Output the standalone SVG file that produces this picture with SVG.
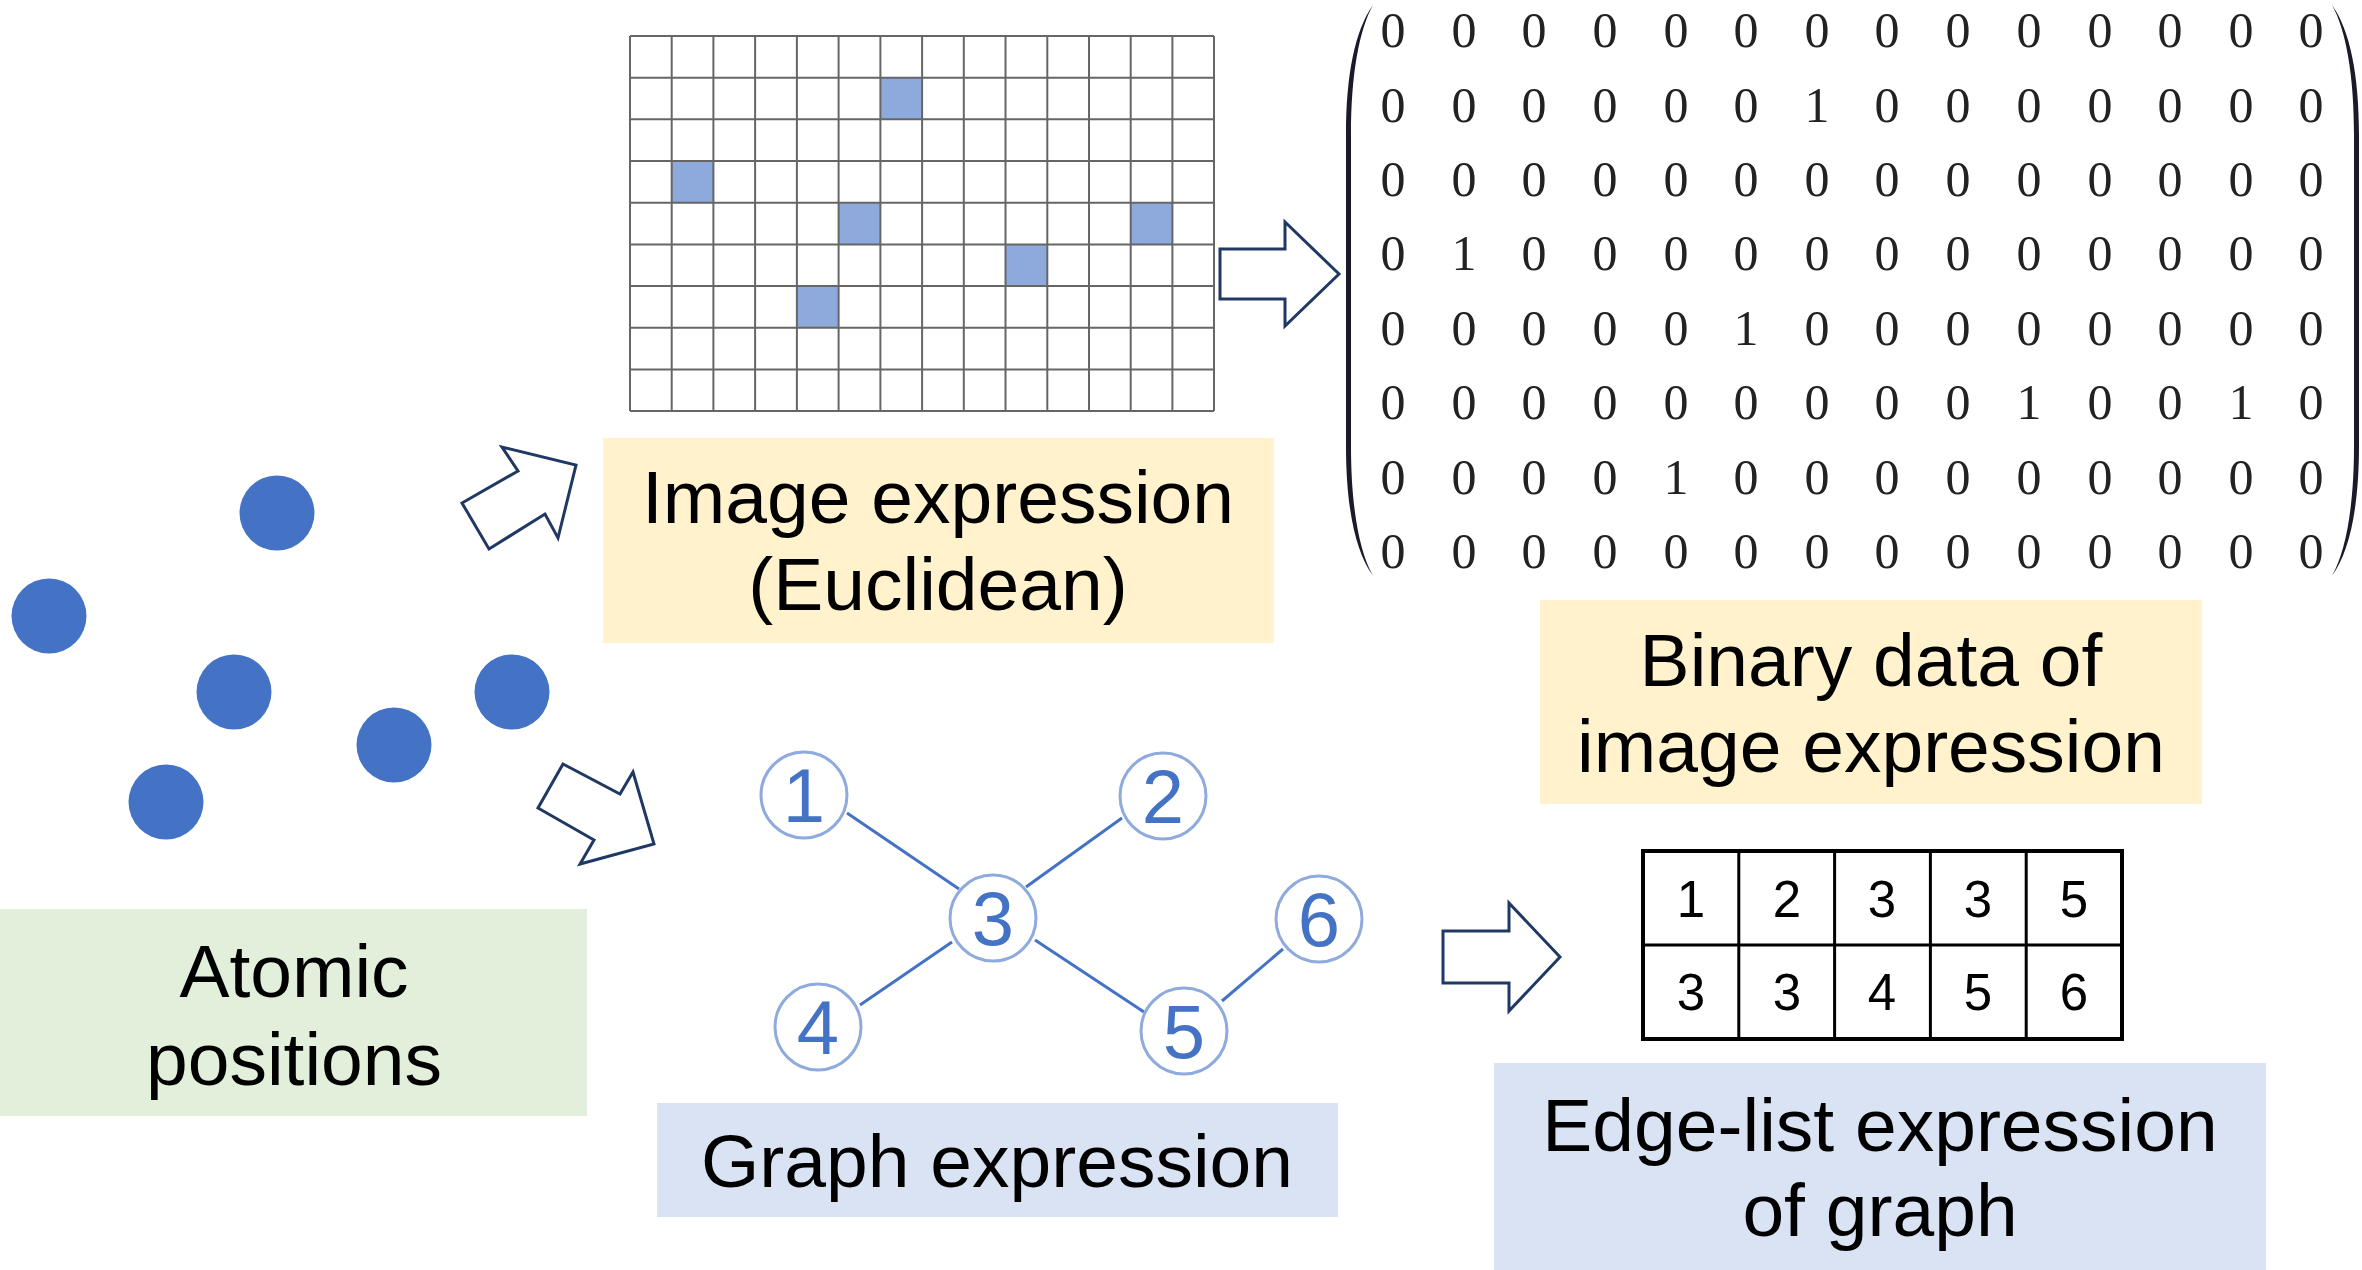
<svg xmlns="http://www.w3.org/2000/svg" width="2362" height="1270" viewBox="0 0 2362 1270">
<style>
.lbl{font-family:"Liberation Sans",Arial,sans-serif;font-size:75px;fill:#000;text-anchor:middle}
.mx{font-family:"Liberation Serif","Times New Roman",serif;font-size:50px;fill:#222;text-anchor:middle}
.tb{font-family:"Liberation Sans",Arial,sans-serif;font-size:51px;fill:#000;text-anchor:middle}
.nd{font-family:"Liberation Sans",Arial,sans-serif;font-size:76px;fill:#4472C4;text-anchor:middle}
.atom{fill:#4472C4}
.gn{fill:#fff;stroke:#8FAADC;stroke-width:3}
.barrow{fill:#fff;stroke:#203864;stroke-width:3;stroke-linejoin:miter}
.edge{stroke:#4472C4;stroke-width:3}
.grid line{stroke:#666;stroke-width:2}
.cell{fill:#8EA9DB}
</style>
<rect width="2362" height="1270" fill="#fff"/>

<g id="atoms">
<circle class="atom" cx="277" cy="513" r="37.5"/>
<circle class="atom" cx="49" cy="616" r="37.5"/>
<circle class="atom" cx="234" cy="692" r="37.5"/>
<circle class="atom" cx="512" cy="692" r="37.5"/>
<circle class="atom" cx="394" cy="745" r="37.5"/>
<circle class="atom" cx="166" cy="802" r="37.5"/>
</g>

<g id="atomic-label">
<rect x="0" y="909" width="587" height="207" fill="#E2EFDA"/>
<text class="lbl" x="294" y="997">Atomic</text>
<text class="lbl" x="294" y="1085">positions</text>
</g>

<g id="image-grid">
<rect class="cell" x="880.4" y="77.7" width="41.7" height="41.7"/>
<rect class="cell" x="671.7" y="161" width="41.7" height="41.7"/>
<rect class="cell" x="838.6" y="202.7" width="41.7" height="41.7"/>
<rect class="cell" x="1130.7" y="202.7" width="41.7" height="41.7"/>
<rect class="cell" x="1005.5" y="244.4" width="41.7" height="41.7"/>
<rect class="cell" x="796.9" y="286.1" width="41.7" height="41.7"/>
<g class="grid">
<line x1="630" y1="36" x2="630" y2="411"/><line x1="671.7" y1="36" x2="671.7" y2="411"/><line x1="713.4" y1="36" x2="713.4" y2="411"/><line x1="755.1" y1="36" x2="755.1" y2="411"/><line x1="796.9" y1="36" x2="796.9" y2="411"/><line x1="838.6" y1="36" x2="838.6" y2="411"/><line x1="880.4" y1="36" x2="880.4" y2="411"/><line x1="922.1" y1="36" x2="922.1" y2="411"/><line x1="963.8" y1="36" x2="963.8" y2="411"/><line x1="1005.5" y1="36" x2="1005.5" y2="411"/><line x1="1047.3" y1="36" x2="1047.3" y2="411"/><line x1="1089" y1="36" x2="1089" y2="411"/><line x1="1130.7" y1="36" x2="1130.7" y2="411"/><line x1="1172.4" y1="36" x2="1172.4" y2="411"/><line x1="1214" y1="36" x2="1214" y2="411"/>
<line x1="630" y1="36" x2="1214" y2="36"/><line x1="630" y1="77.7" x2="1214" y2="77.7"/><line x1="630" y1="119.3" x2="1214" y2="119.3"/><line x1="630" y1="161" x2="1214" y2="161"/><line x1="630" y1="202.7" x2="1214" y2="202.7"/><line x1="630" y1="244.4" x2="1214" y2="244.4"/><line x1="630" y1="286.1" x2="1214" y2="286.1"/><line x1="630" y1="327.8" x2="1214" y2="327.8"/><line x1="630" y1="369.4" x2="1214" y2="369.4"/><line x1="630" y1="411" x2="1214" y2="411"/>
</g>
</g>

<g id="image-label">
<rect x="603" y="438" width="671" height="205" fill="#FFF2CC"/>
<text class="lbl" x="938" y="523">Image expression</text>
<text class="lbl" x="938" y="610">(Euclidean)</text>
</g>

<g id="binary-matrix">
<path d="M1373,5 C1355,30 1346,75 1346,135 L1346,446 C1346,506 1355,551 1373,576 C1359,551 1351,506 1351,446 L1351,135 C1351,75 1359,30 1373,5 Z" fill="#1a1a2a"/>
<path d="M2332,5 C2350,30 2359,75 2359,135 L2359,446 C2359,506 2350,551 2332,576 C2346,551 2354,506 2354,446 L2354,135 C2354,75 2346,30 2332,5 Z" fill="#1a1a2a"/>
<text class="mx" y="47"><tspan x="1393">0</tspan><tspan x="1464">0</tspan><tspan x="1534">0</tspan><tspan x="1605">0</tspan><tspan x="1676">0</tspan><tspan x="1746">0</tspan><tspan x="1817">0</tspan><tspan x="1887">0</tspan><tspan x="1958">0</tspan><tspan x="2029">0</tspan><tspan x="2100">0</tspan><tspan x="2170">0</tspan><tspan x="2241">0</tspan><tspan x="2311">0</tspan></text>
<text class="mx" y="122"><tspan x="1393">0</tspan><tspan x="1464">0</tspan><tspan x="1534">0</tspan><tspan x="1605">0</tspan><tspan x="1676">0</tspan><tspan x="1746">0</tspan><tspan x="1817">1</tspan><tspan x="1887">0</tspan><tspan x="1958">0</tspan><tspan x="2029">0</tspan><tspan x="2100">0</tspan><tspan x="2170">0</tspan><tspan x="2241">0</tspan><tspan x="2311">0</tspan></text>
<text class="mx" y="196"><tspan x="1393">0</tspan><tspan x="1464">0</tspan><tspan x="1534">0</tspan><tspan x="1605">0</tspan><tspan x="1676">0</tspan><tspan x="1746">0</tspan><tspan x="1817">0</tspan><tspan x="1887">0</tspan><tspan x="1958">0</tspan><tspan x="2029">0</tspan><tspan x="2100">0</tspan><tspan x="2170">0</tspan><tspan x="2241">0</tspan><tspan x="2311">0</tspan></text>
<text class="mx" y="270"><tspan x="1393">0</tspan><tspan x="1464">1</tspan><tspan x="1534">0</tspan><tspan x="1605">0</tspan><tspan x="1676">0</tspan><tspan x="1746">0</tspan><tspan x="1817">0</tspan><tspan x="1887">0</tspan><tspan x="1958">0</tspan><tspan x="2029">0</tspan><tspan x="2100">0</tspan><tspan x="2170">0</tspan><tspan x="2241">0</tspan><tspan x="2311">0</tspan></text>
<text class="mx" y="345"><tspan x="1393">0</tspan><tspan x="1464">0</tspan><tspan x="1534">0</tspan><tspan x="1605">0</tspan><tspan x="1676">0</tspan><tspan x="1746">1</tspan><tspan x="1817">0</tspan><tspan x="1887">0</tspan><tspan x="1958">0</tspan><tspan x="2029">0</tspan><tspan x="2100">0</tspan><tspan x="2170">0</tspan><tspan x="2241">0</tspan><tspan x="2311">0</tspan></text>
<text class="mx" y="419"><tspan x="1393">0</tspan><tspan x="1464">0</tspan><tspan x="1534">0</tspan><tspan x="1605">0</tspan><tspan x="1676">0</tspan><tspan x="1746">0</tspan><tspan x="1817">0</tspan><tspan x="1887">0</tspan><tspan x="1958">0</tspan><tspan x="2029">1</tspan><tspan x="2100">0</tspan><tspan x="2170">0</tspan><tspan x="2241">1</tspan><tspan x="2311">0</tspan></text>
<text class="mx" y="494"><tspan x="1393">0</tspan><tspan x="1464">0</tspan><tspan x="1534">0</tspan><tspan x="1605">0</tspan><tspan x="1676">1</tspan><tspan x="1746">0</tspan><tspan x="1817">0</tspan><tspan x="1887">0</tspan><tspan x="1958">0</tspan><tspan x="2029">0</tspan><tspan x="2100">0</tspan><tspan x="2170">0</tspan><tspan x="2241">0</tspan><tspan x="2311">0</tspan></text>
<text class="mx" y="568"><tspan x="1393">0</tspan><tspan x="1464">0</tspan><tspan x="1534">0</tspan><tspan x="1605">0</tspan><tspan x="1676">0</tspan><tspan x="1746">0</tspan><tspan x="1817">0</tspan><tspan x="1887">0</tspan><tspan x="1958">0</tspan><tspan x="2029">0</tspan><tspan x="2100">0</tspan><tspan x="2170">0</tspan><tspan x="2241">0</tspan><tspan x="2311">0</tspan></text>
</g>

<g id="binary-label">
<rect x="1540" y="600" width="662" height="204" fill="#FFF2CC"/>
<text class="lbl" x="1871" y="686">Binary data of</text>
<text class="lbl" x="1871" y="772">image expression</text>
</g>

<g id="connectors">
<polygon class="barrow" points="462,503 518,471 502,447 576,465 558,538 545,514 489,549"/>
<polygon class="barrow" points="563,764 620,794 633,772 654,844 580,864 594,840 538,808"/>
<polygon class="barrow" points="1220,249 1285,249 1285,222 1339,274 1285,326 1285,299 1220,299"/>
<polygon class="barrow" points="1443,931 1509,931 1509,903 1560,957 1509,1011 1509,983 1443,983"/>
<line class="edge" x1="847" y1="813" x2="959" y2="889"/>
<line class="edge" x1="1122" y1="818" x2="1026" y2="887"/>
<line class="edge" x1="952" y1="942" x2="860" y2="1005"/>
<line class="edge" x1="1035" y1="940" x2="1144" y2="1012"/>
<line class="edge" x1="1222" y1="1001" x2="1283" y2="949"/>
</g>

<g id="node-1"><circle class="gn" cx="804" cy="795" r="43"/><text class="nd" x="804" y="822">1</text></g>
<g id="node-2"><circle class="gn" cx="1163" cy="796" r="43"/><text class="nd" x="1163" y="823">2</text></g>
<g id="node-3"><circle class="gn" cx="993" cy="918" r="43"/><text class="nd" x="993" y="945">3</text></g>
<g id="node-4"><circle class="gn" cx="818" cy="1027" r="43"/><text class="nd" x="818" y="1054">4</text></g>
<g id="node-5"><circle class="gn" cx="1184" cy="1031" r="43"/><text class="nd" x="1184" y="1058">5</text></g>
<g id="node-6"><circle class="gn" cx="1319" cy="919" r="43"/><text class="nd" x="1319" y="946">6</text></g>

<g id="graph-label">
<rect x="657" y="1103" width="681" height="114" fill="#DAE3F3"/>
<text class="lbl" x="997" y="1187">Graph expression</text>
</g>

<g id="edge-table">
<rect x="1643" y="851" width="479" height="188" fill="#fff" stroke="#000" stroke-width="4"/>
<line x1="1643" y1="945" x2="2122" y2="945" stroke="#000" stroke-width="3"/>
<line x1="1738.8" y1="851" x2="1738.8" y2="1039" stroke="#000" stroke-width="3"/>
<line x1="1834.6" y1="851" x2="1834.6" y2="1039" stroke="#000" stroke-width="3"/>
<line x1="1930.4" y1="851" x2="1930.4" y2="1039" stroke="#000" stroke-width="3"/>
<line x1="2026.2" y1="851" x2="2026.2" y2="1039" stroke="#000" stroke-width="3"/>
<text class="tb" y="917"><tspan x="1691">1</tspan><tspan x="1787">2</tspan><tspan x="1882">3</tspan><tspan x="1978">3</tspan><tspan x="2074">5</tspan></text>
<text class="tb" y="1010"><tspan x="1691">3</tspan><tspan x="1787">3</tspan><tspan x="1882">4</tspan><tspan x="1978">5</tspan><tspan x="2074">6</tspan></text>
</g>

<g id="edgelist-label">
<rect x="1494" y="1063" width="772" height="207" fill="#DAE3F3"/>
<text class="lbl" x="1880" y="1151">Edge-list expression</text>
<text class="lbl" x="1880" y="1236">of graph</text>
</g>
</svg>
